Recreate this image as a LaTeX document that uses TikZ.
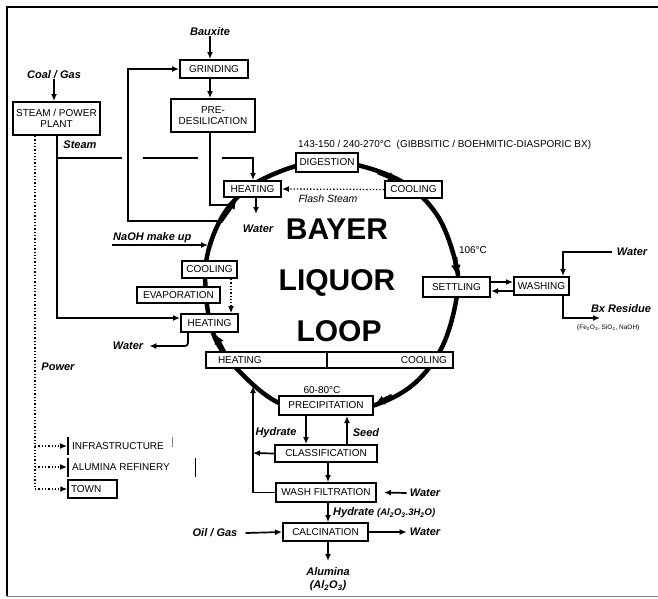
\documentclass[tikz,border=0pt]{standalone}
\usepackage{fontspec}
\setmainfont{Liberation Sans}
\usetikzlibrary{arrows.meta}
\begin{document}
\begin{tikzpicture}[x=1pt,y=-1pt,
  box/.style={draw,line width=2pt,fill=white,inner sep=0pt,align=center,font=\fontsize{10}{11.5}\selectfont},
  lbl/.style={font=\bfseries\itshape\fontsize{11}{12}\selectfont,inner sep=0pt},
  txt/.style={font=\fontsize{10}{11}\selectfont,inner sep=0pt},
  con/.style={line width=1.7pt},
  arr/.style={line width=1.7pt,-{Latex[length=7pt,width=6pt]}},
  dotarr/.style={line width=1.3pt,dotted,-{Latex[length=7pt,width=6pt]}},
  loopline/.style={line width=4.5pt},
  looparr/.style={line width=4.5pt,-{Latex[length=11pt,width=10pt]}},
  big/.style={font=\bfseries\fontsize{30}{30}\selectfont,anchor=base,inner sep=0pt}
]
\useasboundingbox (0,0) rectangle (658,598);
% frame
\draw[line width=2.5pt] (7,596) -- (7,7) -- (658,7);
\draw[gray,line width=1pt] (7,596) -- (658,596);

% Bayer liquor loop
\draw[loopline] plot[smooth cycle,tension=0.6] coordinates {(327,161) (395,178) (435,212) (455,260) (457,295) (443,345) (415,383) (375,405) (327,413) (279,403) (240,372) (215,338) (206,295) (208,252) (228,208) (265,178)};
\draw[looparr] (378,172) -- (399,181);
\draw[looparr] (455,257) -- (457,276);
\draw[looparr] (392,396) -- (374,405);
\draw[looparr] (224,352) -- (214,333);
\draw[looparr] (220,222) -- (237,198);

% big text
\node[big] (bayer) at (337,239) {BAYER};
\node[big] (liquor) at (337,290) {LIQUOR};
\node[big] (loopt) at (339,341) {LOOP};

% labels
\node[lbl] (bauxite) at (210,32) {Bauxite};
\node[lbl] (coal) at (54,75) {Coal / Gas};
\node[lbl] (steamlbl) at (80,145) {Steam};
\node[txt,anchor=west] (temp) at (298,145) {143-150 / 240-270°C \ (GIBBSITIC / BOEHMITIC-DIASPORIC BX)};
\node[font=\itshape\fontsize{10.5}{12}\selectfont,inner sep=0pt] (flash) at (328,199) {Flash Steam};
\node[lbl] (waterT) at (258,229) {Water};
\node[lbl,anchor=west] (naoh) at (113,238) {NaOH make up};
\node[lbl] (waterL) at (128,346) {Water};
\node[lbl] (power) at (58,367) {Power};
\node[txt] (t106) at (473,250) {106°C};
\node[lbl] (waterW) at (632,252) {Water};
\node[lbl] (bx) at (621,309) {Bx Residue};
\node[font=\fontsize{6.5}{7}\selectfont,anchor=west,inner sep=0pt] (bxcomp) at (577,328) {(Fe\textsubscript{2}O\textsubscript{3}, SiO\textsubscript{2}, NaOH)};
\node[txt] (t6080) at (322,390) {60-80°C};
\node[lbl] (hyd1) at (276,433) {Hydrate};
\node[lbl] (seed) at (366,433) {Seed};
\node[lbl] (waterF) at (425,493) {Water};
\node[lbl,anchor=west] (hyd2) at (333,513) {Hydrate {\fontsize{9.5}{10}\selectfont (Al\textsubscript{2}O\textsubscript{3}.3H\textsubscript{2}O)}};
\node[lbl] (oil) at (215,533) {Oil / Gas};
\node[lbl] (waterC) at (425,532) {Water};
\node[lbl] (alum) at (328,572) {Alumina};
\node[lbl] (alum2) at (328,586) {(Al\textsubscript{2}O\textsubscript{3})};

% coordinates
\coordinate (cx210) at (210,0);
\coordinate (sx) at (57,0);
\coordinate (sL) at (57,318);
\coordinate (sA) at (57,158);
\coordinate (sB) at (122,158);
\coordinate (sC) at (143,158);
\coordinate (sD) at (198,158);
\coordinate (sE) at (222,158);
\coordinate (sF) at (253,158);
\coordinate (g1) at (219,221);
\coordinate (g2) at (128,221);
\coordinate (p1) at (210,205);
\coordinate (p2) at (229,205);
\coordinate (w1e) at (256,214);
\coordinate (n1) at (112,245);
\coordinate (n2) at (208,245);
\coordinate (dL) at (231,0);
\coordinate (wl1) at (188,346);
\coordinate (px) at (35,0);
\coordinate (pi1) at (35,446);
\coordinate (pi2) at (67,446);
\coordinate (pa1) at (35,467);
\coordinate (pa2) at (67,467);
\coordinate (sw1) at (0,282);
\coordinate (sw2) at (0,291);
\coordinate (ww) at (563,252);
\coordinate (bx1) at (563,318);
\coordinate (bx2) at (600,318);
\coordinate (h1) at (306,0);
\coordinate (sd) at (347,0);
\coordinate (vL) at (253,453);
\coordinate (vT) at (253,386);
\coordinate (cx328) at (328,0);
\coordinate (al1) at (328,561);

% boxes
\node[box,minimum width=68pt,minimum height=18pt] (grind) at (214,69) {GRINDING};
\node[box,minimum width=84pt,minimum height=33pt] (predesil) at (213,115.5) {PRE-\\DESILICATION};
\node[box,minimum width=87pt,minimum height=33pt] (plant) at (56.5,118.5) {STEAM / POWER\\PLANT};
\node[box,minimum width=62pt,minimum height=19pt] (digest) at (327,162.5) {DIGESTION};
\node[box,minimum width=57pt,minimum height=17pt] (coolT) at (413.5,189.5) {COOLING};
\node[box,minimum width=57pt,minimum height=16pt] (heatT) at (252.5,189) {HEATING};
\node[box,minimum width=67pt,minimum height=20pt] (settle) at (456.5,287) {SETTLING};
\node[box,minimum width=55pt,minimum height=18pt] (wash) at (541.5,286) {WASHING};
\node[box,minimum width=55pt,minimum height=17pt] (coolL) at (209.5,269.5) {COOLING};
\node[box,minimum width=83pt,minimum height=16pt] (evap) at (178.5,295) {EVAPORATION};
\node[box,minimum width=57pt,minimum height=18pt] (heatL) at (209.5,323) {HEATING};
\node[box,minimum width=121pt,minimum height=16pt,text width=97pt,align=left] (barH) at (266.5,360) {HEATING};
\node[box,minimum width=126pt,minimum height=16pt,text width=114pt,align=right] (barC) at (390,360) {COOLING};
\node[box,minimum width=94pt,minimum height=19pt] (precip) at (326,405.5) {PRECIPITATION};
\node[box,minimum width=102pt,minimum height=17pt] (classif) at (326,453.5) {CLASSIFICATION};
\node[box,minimum width=100pt,minimum height=19pt] (washf) at (326,492.5) {WASH FILTRATION};
\node[box,minimum width=85pt,minimum height=18pt] (calc) at (325.5,532) {CALCINATION};
\node[box,line width=1.5pt,minimum width=49pt,minimum height=18pt,text width=43pt,align=left] (town) at (92.5,489) {TOWN};
\node[txt,anchor=west] (infra) at (72,446) {INFRASTRUCTURE};
\node[txt,anchor=west] (refin) at (72,467) {ALUMINA REFINERY};
\draw[line width=1.2pt] (68,437) -- (68,455);
\draw[line width=0.6pt,gray] (172,437) -- (172,447);
\draw[line width=1.2pt] (68,458) -- (68,477);
\draw[line width=1pt] (195,458) -- (195,477);

% connectors
\draw[arr] (bauxite.south -| cx210) -- (cx210 |- grind.north);
\draw[arr] (cx210 |- grind.south) -- (cx210 |- predesil.north);
\draw[arr] (coal.south) -- (coal.south |- plant.north);
\draw[arr] (sx |- plant.south) -- (sL) -- (heatL.west |- sL);
\draw[con] (sA) -- (sB);
\draw[con] (sC) -- (sD);
\draw[arr] (sE) -- (sF) -- (sF |- heatT.north);
\draw[arr] (g1) -- (g2) |- (grind.west);
\draw[con] (cx210 |- predesil.south) -- (p1) -- (p2);
\draw[dotarr] (coolT.west) -- (heatT.east);
\draw[arr] (w1e |- heatT.south) -- (w1e);
\draw[arr] (n1) -- (n2);
\draw[dotarr] (dL |- coolL.south) -- (dL |- heatL.north);
\draw[arr,rounded corners=3pt] (wl1 |- heatL.south) -- (wl1) -- ([xshift=6pt]waterL.east);
\draw[line width=1.3pt,dotted] (px |- plant.south) -- (px |- town.west);
\draw[dotarr] (px |- town.west) -- (town.west);
\draw[dotarr] (pi1) -- (pi2);
\draw[dotarr] (pa1) -- (pa2);
\draw[arr] (settle.east |- sw1) -- (wash.west |- sw1);
\draw[arr] (wash.west |- sw2) -- (settle.east |- sw2);
\draw[arr] ([xshift=-5pt]waterW.west) -- (ww) -- (ww |- wash.north);
\draw[arr] (bx1 |- wash.south) -- (bx1) -- (bx2);
\draw[arr] (h1 |- precip.south) -- (h1 |- classif.north);
\draw[arr] (sd |- classif.north) -- (sd |- precip.south);
\draw[arr] (classif.west) -- (vL);
\draw[arr] (washf.west) -- (washf.west -| vL) -- (vT);
\draw[arr] (cx328 |- classif.south) -- (cx328 |- washf.north);
\draw[arr] (cx328 |- washf.south) -- (cx328 |- calc.north);
\draw[arr] (cx328 |- calc.south) -- (al1);
\draw[arr] ([xshift=-3pt]waterF.west) -- ([xshift=7pt]washf.east);
\draw[arr] ([xshift=8pt]oil.east) -- (calc.west);
\draw[arr] (calc.east) -- ([xshift=-3pt]waterC.west);
\end{tikzpicture}
\end{document}
